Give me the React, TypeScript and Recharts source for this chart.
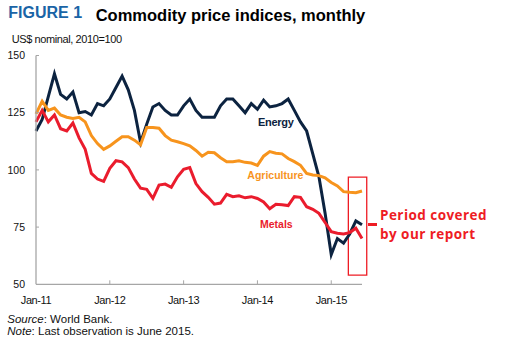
import { LineChart, Line, XAxis, YAxis, ReferenceArea } from 'recharts';

// monthly index values, Jan-11 .. Jun-15 (2010=100)
const energy = [
  117, 122, 132, 142, 133, 131, 134, 125, 125.5, 124,
  129, 128, 131, 136, 141, 135, 126, 112, 120, 127.5,
  129, 126, 124, 124, 128, 131, 126, 123, 123, 123,
  128, 131, 131, 128, 125, 129, 126.5, 130.5, 127.5, 128,
  129, 131, 126, 121, 117, 107, 97, 81, 63, 70,
  68, 72, 77.7, 76,
];
const agriculture = [
  124.5, 130, 126, 127, 124, 123, 122.5, 123, 121, 115,
  111.5, 109, 110.5, 112.5, 114.5, 114.5, 113, 111, 118.5, 118.5,
  118.2, 115, 113, 112.3, 111.5, 110.5, 108.5, 106, 107.7, 107.5,
  105.3, 103.6, 103.6, 104, 103.3, 103, 102, 106, 108, 107.3,
  107, 105, 103.6, 102, 98.5, 97.8, 97.5, 96.5, 94.5, 93,
  90.5, 90.2, 90, 90.8,
];
const metals = [
  121, 126, 121, 124, 118, 117, 120.5, 114, 109, 98.5,
  96, 95, 100.7, 104, 103.5, 101, 96, 92, 91.5, 87.6,
  93.4, 93.8, 92.4, 97, 100.3, 101, 94, 90.5, 88, 85,
  85.5, 89.3, 88.3, 88.7, 87.8, 88.3, 87.5, 86, 83, 85,
  84.8, 84.4, 88.3, 88, 83.9, 82.8, 81, 77, 73, 72.3,
  72, 72.6, 74.5, 70,
];

const xTicks = [0, 12, 24, 36, 48];
const xTickLabels = ['Jan-11', 'Jan-12', 'Jan-13', 'Jan-14', 'Jan-15'];
const yTicks = [50, 75, 100, 125, 150];

// months covered by the report box (Feb-15 .. Jun-15, a bit past the axis end)
const reportPeriod = { x1: 50.78, x2: 53.77, y1: 54, y2: 96.8 };

const data = energy.map((e, i) => ({
  m: i,
  energy: e,
  agriculture: agriculture[i],
  metals: metals[i],
}));

const AXIS = '#a6a6a6';
const FONT = '"Liberation Sans", Arial, sans-serif';

const XTick = ({ x, y, payload }: any) => {
  const idx = xTicks.indexOf(payload.value);
  return (
    <g>
      {payload.value !== 0 && (
        <line x1={x} x2={x} y1={y - 12} y2={y - 16} stroke={AXIS} strokeWidth={1} />
      )}
      <text x={x} y={y} dy="0.71em" textAnchor="middle" fontSize={11} letterSpacing={-0.4}
        fill="#111" fontFamily={FONT}>
        {xTickLabels[idx]}
      </text>
    </g>
  );
};

const YTick = ({ x, y, payload }: any) => (
  <g>
    {payload.value !== 50 && (
      <line x1={x + 11} x2={x + 14} y1={y} y2={y} stroke={AXIS} strokeWidth={1} />
    )}
    <text x={x} y={y} dy="0.355em" textAnchor="end" fontSize={10.5} fill="#111" fontFamily={FONT}>
      {payload.value}
    </text>
  </g>
);

const abs = (left: number, top: number, extra: any = {}) => ({
  position: 'absolute' as const,
  left,
  top,
  lineHeight: 1,
  whiteSpace: 'nowrap' as const,
  ...extra,
});

export default function App() {
  return (
    <div style={{ position: 'absolute', left: 0, top: 0, width: 505, height: 342, background: '#fff', fontFamily: FONT }}>
      <LineChart width={505} height={342} data={data}
        margin={{ top: 55.5, right: 143, bottom: 27.7, left: 0 }}>
        <XAxis dataKey="m" type="number" domain={[0, 53]} ticks={xTicks} height={30}
          tickSize={0} tickMargin={12} tick={<XTick />}
          axisLine={{ stroke: AXIS, strokeWidth: 1.3 }} />
        <YAxis type="number" domain={[50, 150]} ticks={yTicks} width={36}
          tickSize={0} tickMargin={11} tick={<YTick />}
          axisLine={{ stroke: AXIS, strokeWidth: 1.3 }} />
        <Line type="linear" dataKey="energy" stroke="#0c2340" strokeWidth={3} dot={false} isAnimationActive={false} />
        <Line type="linear" dataKey="agriculture" stroke="#f7941d" strokeWidth={3} dot={false} isAnimationActive={false} />
        <Line type="linear" dataKey="metals" stroke="#ea1c2d" strokeWidth={3} dot={false} isAnimationActive={false} />
        <ReferenceArea x1={reportPeriod.x1} x2={reportPeriod.x2} y1={reportPeriod.y1} y2={reportPeriod.y2}
          ifOverflow="visible" fill="none" fillOpacity={0} stroke="#ee1c24" strokeWidth={1.3} />
      </LineChart>

      <div style={abs(8.3, 4.8, { fontSize: 16, fontWeight: 700, color: '#1a64a6' })}>FIGURE 1</div>
      <div style={abs(95.7, 6.7, { fontSize: 16.5, fontWeight: 700, color: '#000' })}>Commodity price indices, monthly</div>
      <div style={abs(11.7, 34, { fontSize: 11, letterSpacing: -0.4, color: '#111' })}>US$ nominal, 2010=100</div>

      <div style={abs(258, 117.4, { fontSize: 11, fontWeight: 700, color: '#0c2340', letterSpacing: -0.3 })}>Energy</div>
      <div style={abs(247.3, 170, { fontSize: 10.5, fontWeight: 700, color: '#f7941d' })}>Agriculture</div>
      <div style={abs(260, 219.3, { fontSize: 10.5, fontWeight: 700, color: '#ea1c2d' })}>Metals</div>

      <div style={{ position: 'absolute', left: 368, top: 223, width: 9, height: 2.5, background: '#ee1c24' }} />
      <div style={abs(380, 206.2, { fontSize: 13.5, lineHeight: '18.5px', fontWeight: 700, color: '#ee1c24', fontFamily: '"Open Sans", sans-serif', letterSpacing: 0.45 })}>
        Period covered<br />by our report
      </div>

      <div style={abs(7.3, 313.6, { fontSize: 11.5, color: '#111' })}><i>Source</i>: World Bank.</div>
      <div style={abs(7.3, 326.3, { fontSize: 11.5, color: '#111' })}><i>Note</i>: Last observation is June 2015.</div>
    </div>
  );
}
